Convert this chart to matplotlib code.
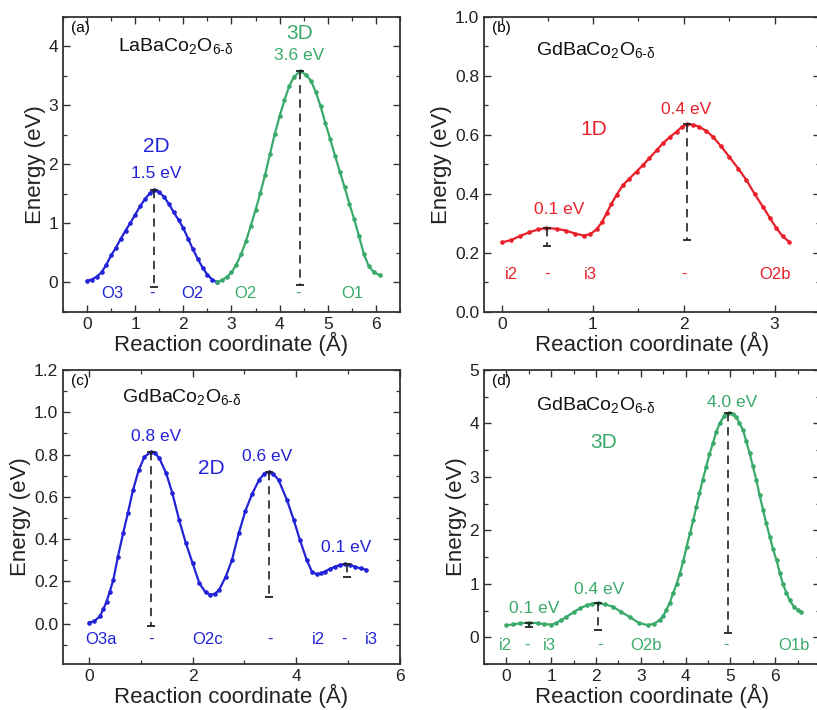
import matplotlib
matplotlib.use("Agg")
import matplotlib.pyplot as plt
from matplotlib.ticker import MultipleLocator, FixedLocator

plt.rcParams['font.family'] = ['Liberation Sans', 'DejaVu Sans']
plt.rcParams['mathtext.fontset'] = 'custom'
plt.rcParams['mathtext.rm'] = 'Liberation Sans'
plt.rcParams['mathtext.it'] = 'Liberation Sans:italic'
plt.rcParams['mathtext.bf'] = 'Liberation Sans:bold'

BLUE = '#2222d8'
GREEN = '#3aaa6a'
RED = '#e8202a'
FRAME = '#333333'

# ---------------- data ----------------
# (a) LaBaCo2O6-d
a_2d_x = [0.00, 0.10, 0.20, 0.30, 0.40, 0.50, 0.60, 0.70, 0.80, 0.90, 1.00, 1.10, 1.20, 1.30,
          1.40, 1.50, 1.60, 1.70, 1.80, 1.90, 2.00, 2.10, 2.20, 2.30, 2.40, 2.50, 2.60, 2.70]
a_2d_y = [0.03, 0.05, 0.10, 0.17, 0.30, 0.46, 0.59, 0.74, 0.88, 1.01, 1.15, 1.29, 1.41, 1.51,
          1.56, 1.53, 1.45, 1.33, 1.19, 1.06, 0.92, 0.74, 0.56, 0.40, 0.25, 0.13, 0.05, 0.00]
a_3d_x = [2.70, 2.80, 2.90, 3.00, 3.10, 3.20, 3.30, 3.40, 3.50, 3.60, 3.70, 3.80, 3.90, 4.00,
          4.10, 4.20, 4.30, 4.43, 4.55, 4.65, 4.75, 4.85, 4.95, 5.05, 5.15, 5.25, 5.35, 5.45,
          5.55, 5.65, 5.75, 5.85, 5.95, 6.08]
a_3d_y = [0.00, 0.04, 0.09, 0.17, 0.30, 0.48, 0.70, 0.96, 1.23, 1.52, 1.83, 2.18, 2.52, 2.82,
          3.09, 3.33, 3.49, 3.58, 3.52, 3.42, 3.23, 2.99, 2.70, 2.43, 2.15, 1.88, 1.61, 1.33,
          1.07, 0.78, 0.48, 0.28, 0.18, 0.12]

# (b) GdBaCo2O6-d, 1D
b_x = [0.00, 0.10, 0.20, 0.30, 0.40, 0.48, 0.60, 0.70, 0.80, 0.90, 0.97, 1.04, 1.10, 1.15,
       1.20, 1.26, 1.33, 1.40, 1.48, 1.55, 1.62, 1.70, 1.77, 1.85, 1.92, 1.98, 2.04, 2.10,
       2.17, 2.25, 2.32, 2.41, 2.50, 2.60, 2.69, 2.78, 2.87, 2.95, 3.02, 3.09, 3.16]
b_y = [0.236, 0.244, 0.258, 0.270, 0.280, 0.284, 0.282, 0.276, 0.266, 0.259, 0.264, 0.280,
       0.305, 0.335, 0.365, 0.397, 0.430, 0.452, 0.476, 0.498, 0.521, 0.548, 0.572, 0.594,
       0.611, 0.628, 0.636, 0.635, 0.628, 0.613, 0.594, 0.562, 0.526, 0.486, 0.447, 0.400,
       0.357, 0.318, 0.284, 0.256, 0.238]

# (c) GdBaCo2O6-d, 2D
c_x = [0.00, 0.10, 0.21, 0.28, 0.34, 0.40, 0.47, 0.56, 0.66, 0.75, 0.85, 0.96, 1.07, 1.20,
       1.28, 1.36, 1.49, 1.61, 1.74, 1.87, 2.00, 2.13, 2.25, 2.34, 2.43, 2.51, 2.64, 2.76,
       2.89, 3.02, 3.15, 3.28, 3.38, 3.47, 3.56, 3.66, 3.82, 3.95, 4.07, 4.20, 4.30, 4.39,
       4.47, 4.55, 4.65, 4.75, 4.85, 4.94, 5.03, 5.13, 5.24, 5.35]
c_y = [0.006, 0.012, 0.035, 0.070, 0.105, 0.150, 0.207, 0.318, 0.428, 0.522, 0.632, 0.726,
       0.789, 0.813, 0.805, 0.782, 0.711, 0.617, 0.491, 0.381, 0.286, 0.192, 0.148, 0.137,
       0.142, 0.160, 0.223, 0.302, 0.428, 0.535, 0.615, 0.679, 0.710, 0.718, 0.708, 0.679,
       0.585, 0.491, 0.396, 0.302, 0.247, 0.234, 0.238, 0.247, 0.260, 0.270, 0.279, 0.282,
       0.278, 0.270, 0.262, 0.255]

# (d) GdBaCo2O6-d, 3D
d_x = [0.00, 0.15, 0.30, 0.50, 0.70, 0.85, 1.00, 1.10, 1.22, 1.34, 1.50, 1.64, 1.80, 1.92,
       2.04, 2.20, 2.38, 2.55, 2.75, 2.95, 3.16, 3.30, 3.42, 3.50, 3.57, 3.65, 3.72, 3.80,
       3.87, 3.95, 4.02, 4.10, 4.17, 4.24, 4.31, 4.38, 4.46, 4.53, 4.61, 4.68, 4.76, 4.86,
       4.97, 5.05, 5.13, 5.20, 5.28, 5.35, 5.43, 5.50, 5.58, 5.65, 5.73, 5.80, 5.88, 5.95,
       6.03, 6.10, 6.17, 6.25, 6.32, 6.42, 6.50, 6.58]
d_y = [0.225, 0.240, 0.260, 0.275, 0.262, 0.245, 0.237, 0.260, 0.320, 0.380, 0.470, 0.540,
       0.600, 0.630, 0.640, 0.615, 0.570, 0.480, 0.380, 0.270, 0.225, 0.255, 0.320, 0.400,
       0.510, 0.650, 0.820, 1.000, 1.190, 1.430, 1.690, 1.950, 2.190, 2.440, 2.690, 2.940,
       3.190, 3.420, 3.630, 3.830, 4.000, 4.140, 4.200, 4.180, 4.120, 4.010, 3.880, 3.670,
       3.440, 3.200, 2.940, 2.660, 2.380, 2.130, 1.880, 1.650, 1.440, 1.210, 1.000, 0.830,
       0.690, 0.570, 0.510, 0.470]

# barrier drop lines: (x, y_top, y_bottom)
a_drops = [(1.38, 1.56, -0.07), (4.42, 3.58, -0.05)]
b_drops = [(0.49, 0.283, 0.224), (2.03, 0.637, 0.244)]
c_drops = [(1.20, 0.813, -0.01), (3.47, 0.718, 0.126), (4.97, 0.282, 0.223)]
d_drops = [(0.50, 0.275, 0.19), (2.04, 0.640, 0.14), (4.95, 4.20, 0.08)]

# site labels along the path: (x, y, text, colour)
a_sites = [(0.53, -0.19, 'O3', BLUE), (1.34, -0.19, '-', BLUE), (2.18, -0.19, 'O2', BLUE),
           (3.28, -0.19, 'O2', GREEN), (4.39, -0.19, '-', GREEN), (5.50, -0.19, 'O1', GREEN)]
b_sites = [(0.10, 0.128, 'i2', RED), (0.49, 0.128, '-', RED), (0.97, 0.128, 'i3', RED),
           (2.00, 0.128, '-', RED), (3.00, 0.128, 'O2b', RED)]
c_sites = [(0.24, -0.075, 'O3a', BLUE), (1.20, -0.075, '-', BLUE), (2.29, -0.075, 'O2c', BLUE),
           (3.50, -0.075, '-', BLUE), (4.43, -0.075, 'i2', BLUE), (4.92, -0.075, '-', BLUE),
           (5.45, -0.075, 'i3', BLUE)]
d_sites = [(-0.02, -0.15, 'i2', GREEN), (0.45, -0.15, '-', GREEN), (0.97, -0.15, 'i3', GREEN),
           (2.08, -0.15, '-', GREEN), (3.12, -0.15, 'O2b', GREEN), (4.91, -0.15, '-', GREEN),
           (6.42, -0.15, 'O1b', GREEN)]

# barrier labels: (x, y, text, colour)
a_barriers = [(1.43, 1.85, '1.5 eV', BLUE), (4.41, 3.84, '3.6 eV', GREEN)]
b_barriers = [(0.63, 0.346, '0.1 eV', RED), (2.03, 0.685, '0.4 eV', RED)]
c_barriers = [(1.30, 0.884, '0.8 eV', BLUE), (3.43, 0.789, '0.6 eV', BLUE), (4.97, 0.36, '0.1 eV', BLUE)]
d_barriers = [(0.61, 0.54, '0.1 eV', GREEN), (2.08, 0.89, '0.4 eV', GREEN), (5.04, 4.39, '4.0 eV', GREEN)]

d_xticks = [0, 1, 2, 3, 4, 5, 6]

LA = r'$\mathrm{LaBaCo_2O_{6\text{-}\delta}}$'
GD = r'$\mathrm{GdBaCo_2O_{6\text{-}\delta}}$'

fig = plt.figure(figsize=(8.17, 7.10), dpi=100)

pos = {
    'a': [0.0771, 0.5606, 0.4125, 0.4155],
    'b': [0.5924, 0.5606, 0.4113, 0.4155],
    'c': [0.0771, 0.0648, 0.4125, 0.4142],
    'd': [0.5924, 0.0648, 0.4113, 0.4142],
}


def style(ax, xlim, ylim, xmaj, xmin, ymaj, ymin, yfmt=None):
    ax.set_xlim(*xlim)
    ax.set_ylim(*ylim)
    ax.xaxis.set_major_locator(MultipleLocator(xmaj))
    ax.xaxis.set_minor_locator(MultipleLocator(xmin))
    ax.yaxis.set_major_locator(MultipleLocator(ymaj))
    ax.yaxis.set_minor_locator(MultipleLocator(ymin))
    if yfmt:
        ax.yaxis.set_major_formatter(plt.FormatStrFormatter(yfmt))
    ax.tick_params(which='both', direction='in', top=True, right=True, colors=FRAME,
                   labelcolor='#222222', labelsize=12.5)
    ax.tick_params(which='major', length=5, width=1.0)
    ax.tick_params(which='minor', length=3, width=0.9)
    for s in ax.spines.values():
        s.set_color(FRAME)
        s.set_linewidth(1.3)
    ax.set_xlabel('Reaction coordinate (Å)', fontsize=16, labelpad=0, color='#222222')
    ax.set_ylabel('Energy (eV)', fontsize=16, labelpad=2, color='#222222')


def curve(ax, x, y, c):
    ax.plot(x, y, '-', color=c, lw=1.6, marker='o', ms=2.3, mec=c, mfc=c, zorder=3)


def drops(ax, lst):
    for x, yt, yb in lst:
        ax.plot([x, x], [yt, yb], color='#222222', lw=1.2, ls=(0, (5, 3.5)), zorder=4)
        ax.plot([x, x], [yt, yb], ls='none', marker='_', ms=6, mew=1.3, color='#222222', zorder=4)


def texts(ax, sites, barriers, fs_site=12, fs_bar=12.5):
    for x, y, t, c in sites:
        ax.text(x, y, t, color=c, fontsize=fs_site, ha='center', va='center')
    for x, y, t, c in barriers:
        ax.text(x, y, t, color=c, fontsize=fs_bar, ha='center', va='center')


# ----- (a)
ax = fig.add_axes(pos['a'])
style(ax, (-0.5, 6.5), (-0.5, 4.5), 1, 0.5, 1, 0.5)
curve(ax, a_2d_x, a_2d_y, BLUE)
curve(ax, a_3d_x, a_3d_y, GREEN)
drops(ax, a_drops)
texts(ax, a_sites, a_barriers)
ax.text(1.43, 2.31, '2D', color=BLUE, fontsize=15, ha='center', va='center')
ax.text(4.41, 4.22, '3D', color=GREEN, fontsize=15, ha='center', va='center')
ax.text(0.65, 4.0, LA, fontsize=14, ha='left', va='center', color='#111111')
ax.text(0.025, 0.985, '(a)', transform=ax.transAxes, fontsize=11, ha='left', va='top')

# ----- (b)
ax = fig.add_axes(pos['b'])
style(ax, (-0.2, 3.5), (0.0, 1.0), 1, 0.5, 0.2, 0.1, '%.1f')
curve(ax, b_x, b_y, RED)
drops(ax, b_drops)
texts(ax, b_sites, b_barriers)
ax.text(1.01, 0.617, '1D', color=RED, fontsize=15, ha='center', va='center')
ax.text(0.37, 0.888, GD, fontsize=14, ha='left', va='center', color='#111111')
ax.text(0.025, 0.985, '(b)', transform=ax.transAxes, fontsize=11, ha='left', va='top')

# ----- (c)
ax = fig.add_axes(pos['c'])
style(ax, (-0.5, 6.0), (-0.19, 1.2), 2, 1, 0.2, 0.1, '%.1f')
curve(ax, c_x, c_y, BLUE)
drops(ax, c_drops)
texts(ax, c_sites, c_barriers)
ax.text(2.37, 0.734, '2D', color=BLUE, fontsize=15, ha='center', va='center')
ax.text(0.63, 1.072, GD, fontsize=14, ha='left', va='center', color='#111111')
ax.text(0.025, 0.985, '(c)', transform=ax.transAxes, fontsize=11, ha='left', va='top')

# ----- (d)
ax = fig.add_axes(pos['d'])
style(ax, (-0.5, 7.0), (-0.5, 5.0), 1, 0.5, 1, 0.5)
ax.xaxis.set_major_locator(FixedLocator(d_xticks))
curve(ax, d_x, d_y, GREEN)
drops(ax, d_drops)
texts(ax, d_sites, d_barriers)
ax.text(2.17, 3.64, '3D', color=GREEN, fontsize=15, ha='center', va='center')
ax.text(0.67, 4.34, GD, fontsize=14, ha='left', va='center', color='#111111')
ax.text(0.025, 0.985, '(d)', transform=ax.transAxes, fontsize=11, ha='left', va='top')

fig.savefig('out.png', dpi=100)
